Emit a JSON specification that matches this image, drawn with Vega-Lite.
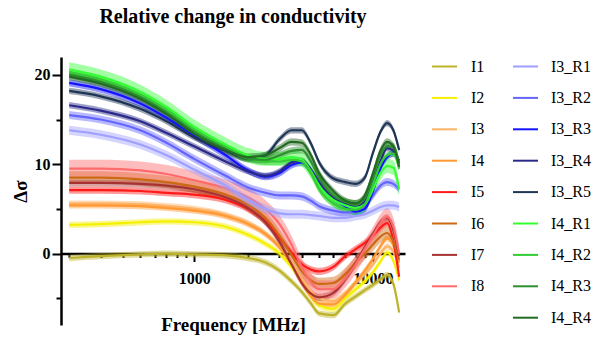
{
"$schema": "https://vega.github.io/schema/vega-lite/v6.json",
"width": 344, "height": 268,
"autosize": {"type": "none"},
"padding": {"left": 61, "top": 57, "right": 200, "bottom": 15},
"background": "white",
"config": {"view": {"stroke": null}},
"title": {"text": "Relative change in conductivity", "font": "Liberation Serif", "fontSize": 20, "fontWeight": "bold", "anchor": "middle", "offset": 26, "color": "black"},
"datasets": {"d": [
{"s":"I1","f":200,"v":-0.5,"e":0.35},{"s":"I1","f":300,"v":-0.3,"e":0.35},{"s":"I1","f":500,"v":-0.1,"e":0.35},{"s":"I1","f":700,"v":0.0,"e":0.35},{"s":"I1","f":1000,"v":-0.1,"e":0.35},{"s":"I1","f":1500,"v":-0.2,"e":0.35},{"s":"I1","f":2000,"v":-0.5,"e":0.35},{"s":"I1","f":2500,"v":-1.0,"e":0.35},{"s":"I1","f":3000,"v":-1.9,"e":0.35},{"s":"I1","f":3500,"v":-3.1,"e":0.35},{"s":"I1","f":4000,"v":-4.3,"e":0.35},{"s":"I1","f":4500,"v":-5.6,"e":0.35},{"s":"I1","f":5000,"v":-6.7,"e":0.35},{"s":"I1","f":6000,"v":-6.9,"e":0.35},{"s":"I1","f":7000,"v":-5.6,"e":0.35},{"s":"I1","f":8000,"v":-4.8,"e":0.35},{"s":"I1","f":9000,"v":-4.1,"e":0.35},{"s":"I1","f":10000,"v":-3.5,"e":0.35},{"s":"I1","f":11000,"v":-2.9,"e":0.35},{"s":"I1","f":12000,"v":-2.4,"e":0.35},{"s":"I1","f":13000,"v":-3.4,"e":0.35},{"s":"I1","f":14000,"v":-6.6,"e":0.35},
{"s":"I2","f":200,"v":3.2,"e":0.35},{"s":"I2","f":300,"v":3.3,"e":0.35},{"s":"I2","f":500,"v":3.5,"e":0.35},{"s":"I2","f":700,"v":3.6,"e":0.35},{"s":"I2","f":1000,"v":3.5,"e":0.35},{"s":"I2","f":1500,"v":3.0,"e":0.35},{"s":"I2","f":2000,"v":2.1,"e":0.35},{"s":"I2","f":2500,"v":1.1,"e":0.35},{"s":"I2","f":3000,"v":0.0,"e":0.35},{"s":"I2","f":3500,"v":-1.5,"e":0.35},{"s":"I2","f":4000,"v":-3.2,"e":0.35},{"s":"I2","f":4500,"v":-4.8,"e":0.35},{"s":"I2","f":5000,"v":-5.8,"e":0.35},{"s":"I2","f":6000,"v":-6.2,"e":0.35},{"s":"I2","f":7000,"v":-5.0,"e":0.35},{"s":"I2","f":8000,"v":-4.0,"e":0.35},{"s":"I2","f":9000,"v":-3.1,"e":0.35},{"s":"I2","f":10000,"v":-2.1,"e":0.35},{"s":"I2","f":11000,"v":-0.9,"e":0.35},{"s":"I2","f":12000,"v":0.1,"e":0.35},{"s":"I2","f":13000,"v":-0.8,"e":0.35},{"s":"I2","f":14000,"v":-3.0,"e":0.35},
{"s":"I3","f":200,"v":5.6,"e":0.35},{"s":"I3","f":300,"v":5.6,"e":0.35},{"s":"I3","f":500,"v":5.5,"e":0.35},{"s":"I3","f":700,"v":5.3,"e":0.35},{"s":"I3","f":1000,"v":5.0,"e":0.35},{"s":"I3","f":1500,"v":4.3,"e":0.35},{"s":"I3","f":2000,"v":3.4,"e":0.35},{"s":"I3","f":2500,"v":2.2,"e":0.35},{"s":"I3","f":3000,"v":0.8,"e":0.35},{"s":"I3","f":3500,"v":-1.0,"e":0.35},{"s":"I3","f":4000,"v":-2.8,"e":0.35},{"s":"I3","f":4500,"v":-4.2,"e":0.35},{"s":"I3","f":5000,"v":-5.0,"e":0.35},{"s":"I3","f":6000,"v":-5.3,"e":0.35},{"s":"I3","f":7000,"v":-4.4,"e":0.35},{"s":"I3","f":8000,"v":-3.3,"e":0.35},{"s":"I3","f":9000,"v":-2.3,"e":0.35},{"s":"I3","f":10000,"v":-1.2,"e":0.35},{"s":"I3","f":11000,"v":0.0,"e":0.35},{"s":"I3","f":12000,"v":0.8,"e":0.35},{"s":"I3","f":13000,"v":0.2,"e":0.35},{"s":"I3","f":14000,"v":-1.6,"e":0.35},
{"s":"I4","f":200,"v":5.4,"e":0.35},{"s":"I4","f":300,"v":5.4,"e":0.35},{"s":"I4","f":500,"v":5.3,"e":0.35},{"s":"I4","f":700,"v":5.1,"e":0.35},{"s":"I4","f":1000,"v":4.8,"e":0.35},{"s":"I4","f":1500,"v":4.2,"e":0.35},{"s":"I4","f":2000,"v":3.3,"e":0.35},{"s":"I4","f":2500,"v":2.2,"e":0.35},{"s":"I4","f":3000,"v":0.7,"e":0.35},{"s":"I4","f":3500,"v":-1.2,"e":0.35},{"s":"I4","f":4000,"v":-3.2,"e":0.35},{"s":"I4","f":4500,"v":-4.8,"e":0.35},{"s":"I4","f":5000,"v":-5.6,"e":0.35},{"s":"I4","f":6000,"v":-5.7,"e":0.35},{"s":"I4","f":7000,"v":-4.6,"e":0.35},{"s":"I4","f":8000,"v":-3.2,"e":0.35},{"s":"I4","f":9000,"v":-1.9,"e":0.35},{"s":"I4","f":10000,"v":-0.6,"e":0.35},{"s":"I4","f":11000,"v":0.8,"e":0.35},{"s":"I4","f":12000,"v":1.7,"e":0.35},{"s":"I4","f":13000,"v":1.0,"e":0.35},{"s":"I4","f":14000,"v":-1.0,"e":0.35},
{"s":"I5","f":200,"v":7.1,"e":0.4},{"s":"I5","f":300,"v":7.1,"e":0.4},{"s":"I5","f":500,"v":7.0,"e":0.4},{"s":"I5","f":700,"v":6.8,"e":0.4},{"s":"I5","f":1000,"v":6.6,"e":0.4},{"s":"I5","f":1500,"v":6.0,"e":0.4},{"s":"I5","f":2000,"v":5.0,"e":0.4},{"s":"I5","f":2500,"v":3.6,"e":0.4},{"s":"I5","f":3000,"v":1.8,"e":0.4},{"s":"I5","f":3500,"v":0.1,"e":0.4},{"s":"I5","f":4000,"v":-1.2,"e":0.4},{"s":"I5","f":4500,"v":-1.8,"e":0.4},{"s":"I5","f":5000,"v":-2.0,"e":0.4},{"s":"I5","f":6000,"v":-1.5,"e":0.4},{"s":"I5","f":7000,"v":-0.3,"e":0.4},{"s":"I5","f":8000,"v":0.5,"e":0.4},{"s":"I5","f":9000,"v":1.2,"e":0.4},{"s":"I5","f":10000,"v":2.0,"e":0.4},{"s":"I5","f":11000,"v":2.9,"e":0.4},{"s":"I5","f":12000,"v":3.4,"e":0.4},{"s":"I5","f":13000,"v":1.4,"e":0.4},{"s":"I5","f":14000,"v":-2.6,"e":0.4},
{"s":"I6","f":200,"v":8.5,"e":0.7},{"s":"I6","f":300,"v":8.5,"e":0.7},{"s":"I6","f":500,"v":8.3,"e":0.7},{"s":"I6","f":700,"v":8.0,"e":0.7},{"s":"I6","f":1000,"v":7.5,"e":0.7},{"s":"I6","f":1500,"v":6.6,"e":0.7},{"s":"I6","f":2000,"v":5.5,"e":0.7},{"s":"I6","f":2500,"v":4.0,"e":0.7},{"s":"I6","f":3000,"v":2.0,"e":0.7},{"s":"I6","f":3500,"v":-0.2,"e":0.7},{"s":"I6","f":4000,"v":-2.0,"e":0.7},{"s":"I6","f":4500,"v":-3.0,"e":0.7},{"s":"I6","f":5000,"v":-3.4,"e":0.7},{"s":"I6","f":6000,"v":-3.3,"e":0.7},{"s":"I6","f":7000,"v":-2.3,"e":0.7},{"s":"I6","f":8000,"v":-1.0,"e":0.7},{"s":"I6","f":9000,"v":0.0,"e":0.7},{"s":"I6","f":10000,"v":1.0,"e":0.7},{"s":"I6","f":11000,"v":1.9,"e":0.7},{"s":"I6","f":12000,"v":2.3,"e":0.7},{"s":"I6","f":13000,"v":1.3,"e":0.7},{"s":"I6","f":14000,"v":-0.7,"e":0.7},
{"s":"I7","f":200,"v":7.9,"e":0.4},{"s":"I7","f":300,"v":7.9,"e":0.4},{"s":"I7","f":500,"v":7.8,"e":0.4},{"s":"I7","f":700,"v":7.6,"e":0.4},{"s":"I7","f":1000,"v":7.2,"e":0.4},{"s":"I7","f":1500,"v":6.3,"e":0.4},{"s":"I7","f":2000,"v":5.1,"e":0.4},{"s":"I7","f":2500,"v":3.5,"e":0.4},{"s":"I7","f":3000,"v":1.3,"e":0.4},{"s":"I7","f":3500,"v":-1.2,"e":0.4},{"s":"I7","f":4000,"v":-3.3,"e":0.4},{"s":"I7","f":4500,"v":-4.5,"e":0.4},{"s":"I7","f":5000,"v":-4.9,"e":0.4},{"s":"I7","f":6000,"v":-4.4,"e":0.4},{"s":"I7","f":7000,"v":-2.9,"e":0.4},{"s":"I7","f":8000,"v":-1.1,"e":0.4},{"s":"I7","f":9000,"v":0.7,"e":0.4},{"s":"I7","f":10000,"v":2.2,"e":0.4},{"s":"I7","f":11000,"v":3.5,"e":0.4},{"s":"I7","f":12000,"v":4.0,"e":0.4},{"s":"I7","f":13000,"v":2.6,"e":0.4},{"s":"I7","f":14000,"v":-0.3,"e":0.4},
{"s":"I8","f":200,"v":9.5,"e":1.0},{"s":"I8","f":300,"v":9.5,"e":1.0},{"s":"I8","f":500,"v":9.3,"e":1.0},{"s":"I8","f":700,"v":8.9,"e":1.0},{"s":"I8","f":1000,"v":8.2,"e":1.0},{"s":"I8","f":1500,"v":7.3,"e":1.0},{"s":"I8","f":2000,"v":6.3,"e":1.0},{"s":"I8","f":2500,"v":5.0,"e":1.0},{"s":"I8","f":3000,"v":3.3,"e":1.0},{"s":"I8","f":3500,"v":1.0,"e":1.0},{"s":"I8","f":4000,"v":-1.5,"e":1.0},{"s":"I8","f":4500,"v":-3.2,"e":1.0},{"s":"I8","f":5000,"v":-4.0,"e":1.0},{"s":"I8","f":6000,"v":-4.0,"e":1.0},{"s":"I8","f":7000,"v":-2.8,"e":1.0},{"s":"I8","f":8000,"v":-1.2,"e":1.0},{"s":"I8","f":9000,"v":0.5,"e":1.0},{"s":"I8","f":10000,"v":2.0,"e":1.0},{"s":"I8","f":11000,"v":3.4,"e":1.0},{"s":"I8","f":12000,"v":4.1,"e":1.0},{"s":"I8","f":13000,"v":3.0,"e":1.0},{"s":"I8","f":14000,"v":0.0,"e":1.0},
{"s":"I3_R1","f":200,"v":13.8,"e":0.5},{"s":"I3_R1","f":300,"v":13.3,"e":0.5},{"s":"I3_R1","f":500,"v":12.2,"e":0.5},{"s":"I3_R1","f":700,"v":11.0,"e":0.5},{"s":"I3_R1","f":1000,"v":9.4,"e":0.5},{"s":"I3_R1","f":1500,"v":7.6,"e":0.5},{"s":"I3_R1","f":2000,"v":6.0,"e":0.5},{"s":"I3_R1","f":2500,"v":5.0,"e":0.5},{"s":"I3_R1","f":3000,"v":4.5,"e":0.5},{"s":"I3_R1","f":3500,"v":4.4,"e":0.5},{"s":"I3_R1","f":4000,"v":4.4,"e":0.5},{"s":"I3_R1","f":4500,"v":4.3,"e":0.5},{"s":"I3_R1","f":5000,"v":4.2,"e":0.5},{"s":"I3_R1","f":6000,"v":4.0,"e":0.5},{"s":"I3_R1","f":7000,"v":4.0,"e":0.5},{"s":"I3_R1","f":8000,"v":4.2,"e":0.5},{"s":"I3_R1","f":9000,"v":4.4,"e":0.5},{"s":"I3_R1","f":10000,"v":4.8,"e":0.5},{"s":"I3_R1","f":11000,"v":5.2,"e":0.5},{"s":"I3_R1","f":12000,"v":5.4,"e":0.5},{"s":"I3_R1","f":13000,"v":5.4,"e":0.5},{"s":"I3_R1","f":14000,"v":5.2,"e":0.5},
{"s":"I3_R2","f":200,"v":15.5,"e":0.45},{"s":"I3_R2","f":300,"v":15.0,"e":0.45},{"s":"I3_R2","f":500,"v":13.8,"e":0.45},{"s":"I3_R2","f":700,"v":12.4,"e":0.45},{"s":"I3_R2","f":1000,"v":10.6,"e":0.45},{"s":"I3_R2","f":1500,"v":8.7,"e":0.45},{"s":"I3_R2","f":2000,"v":7.4,"e":0.45},{"s":"I3_R2","f":2500,"v":6.8,"e":0.45},{"s":"I3_R2","f":3000,"v":6.5,"e":0.45},{"s":"I3_R2","f":3500,"v":6.5,"e":0.45},{"s":"I3_R2","f":4000,"v":6.4,"e":0.45},{"s":"I3_R2","f":4500,"v":5.9,"e":0.45},{"s":"I3_R2","f":5000,"v":5.3,"e":0.45},{"s":"I3_R2","f":6000,"v":4.8,"e":0.45},{"s":"I3_R2","f":7000,"v":4.6,"e":0.45},{"s":"I3_R2","f":8000,"v":4.7,"e":0.45},{"s":"I3_R2","f":9000,"v":5.3,"e":0.45},{"s":"I3_R2","f":10000,"v":6.5,"e":0.45},{"s":"I3_R2","f":11000,"v":7.6,"e":0.45},{"s":"I3_R2","f":12000,"v":8.0,"e":0.45},{"s":"I3_R2","f":13000,"v":7.8,"e":0.45},{"s":"I3_R2","f":14000,"v":7.2,"e":0.45},
{"s":"I3_R3","f":200,"v":19.1,"e":0.4},{"s":"I3_R3","f":300,"v":18.4,"e":0.4},{"s":"I3_R3","f":500,"v":16.8,"e":0.4},{"s":"I3_R3","f":700,"v":15.2,"e":0.4},{"s":"I3_R3","f":1000,"v":13.2,"e":0.4},{"s":"I3_R3","f":1500,"v":11.0,"e":0.4},{"s":"I3_R3","f":2000,"v":9.3,"e":0.4},{"s":"I3_R3","f":2500,"v":8.6,"e":0.4},{"s":"I3_R3","f":3000,"v":9.0,"e":0.4},{"s":"I3_R3","f":3500,"v":9.9,"e":0.4},{"s":"I3_R3","f":4000,"v":10.2,"e":0.4},{"s":"I3_R3","f":4500,"v":9.2,"e":0.4},{"s":"I3_R3","f":5000,"v":7.8,"e":0.4},{"s":"I3_R3","f":6000,"v":6.2,"e":0.4},{"s":"I3_R3","f":7000,"v":5.3,"e":0.4},{"s":"I3_R3","f":8000,"v":4.7,"e":0.4},{"s":"I3_R3","f":9000,"v":5.0,"e":0.4},{"s":"I3_R3","f":10000,"v":7.0,"e":0.4},{"s":"I3_R3","f":11000,"v":9.5,"e":0.4},{"s":"I3_R3","f":12000,"v":10.8,"e":0.4},{"s":"I3_R3","f":13000,"v":11.2,"e":0.4},{"s":"I3_R3","f":14000,"v":10.4,"e":0.4},
{"s":"I3_R4","f":200,"v":16.6,"e":0.35},{"s":"I3_R4","f":300,"v":16.0,"e":0.35},{"s":"I3_R4","f":500,"v":14.8,"e":0.35},{"s":"I3_R4","f":700,"v":13.5,"e":0.35},{"s":"I3_R4","f":1000,"v":12.0,"e":0.35},{"s":"I3_R4","f":1500,"v":10.3,"e":0.35},{"s":"I3_R4","f":2000,"v":9.2,"e":0.35},{"s":"I3_R4","f":2500,"v":8.7,"e":0.35},{"s":"I3_R4","f":3000,"v":9.2,"e":0.35},{"s":"I3_R4","f":3500,"v":10.2,"e":0.35},{"s":"I3_R4","f":4000,"v":10.4,"e":0.35},{"s":"I3_R4","f":4500,"v":9.4,"e":0.35},{"s":"I3_R4","f":5000,"v":8.0,"e":0.35},{"s":"I3_R4","f":6000,"v":6.2,"e":0.35},{"s":"I3_R4","f":7000,"v":5.5,"e":0.35},{"s":"I3_R4","f":8000,"v":5.2,"e":0.35},{"s":"I3_R4","f":9000,"v":5.8,"e":0.35},{"s":"I3_R4","f":10000,"v":8.0,"e":0.35},{"s":"I3_R4","f":11000,"v":10.3,"e":0.35},{"s":"I3_R4","f":12000,"v":11.8,"e":0.35},{"s":"I3_R4","f":13000,"v":11.5,"e":0.35},{"s":"I3_R4","f":14000,"v":10.2,"e":0.35},
{"s":"I3_R5","f":200,"v":18.2,"e":0.35},{"s":"I3_R5","f":300,"v":17.6,"e":0.35},{"s":"I3_R5","f":500,"v":16.2,"e":0.35},{"s":"I3_R5","f":700,"v":14.8,"e":0.35},{"s":"I3_R5","f":1000,"v":13.0,"e":0.35},{"s":"I3_R5","f":1500,"v":11.5,"e":0.35},{"s":"I3_R5","f":2000,"v":10.6,"e":0.35},{"s":"I3_R5","f":2500,"v":11.0,"e":0.35},{"s":"I3_R5","f":3000,"v":12.8,"e":0.35},{"s":"I3_R5","f":3500,"v":13.8,"e":0.35},{"s":"I3_R5","f":4000,"v":13.8,"e":0.35},{"s":"I3_R5","f":4500,"v":12.3,"e":0.35},{"s":"I3_R5","f":5000,"v":10.2,"e":0.35},{"s":"I3_R5","f":6000,"v":8.4,"e":0.35},{"s":"I3_R5","f":7000,"v":8.0,"e":0.35},{"s":"I3_R5","f":8000,"v":7.8,"e":0.35},{"s":"I3_R5","f":9000,"v":8.5,"e":0.35},{"s":"I3_R5","f":10000,"v":11.3,"e":0.35},{"s":"I3_R5","f":11000,"v":13.6,"e":0.35},{"s":"I3_R5","f":12000,"v":14.6,"e":0.35},{"s":"I3_R5","f":13000,"v":13.8,"e":0.35},{"s":"I3_R5","f":14000,"v":11.6,"e":0.35},
{"s":"I4_R1","f":200,"v":20.6,"e":0.8},{"s":"I4_R1","f":300,"v":19.8,"e":0.8},{"s":"I4_R1","f":500,"v":18.1,"e":0.8},{"s":"I4_R1","f":700,"v":16.4,"e":0.8},{"s":"I4_R1","f":1000,"v":14.2,"e":0.8},{"s":"I4_R1","f":1500,"v":12.2,"e":0.8},{"s":"I4_R1","f":2000,"v":11.0,"e":0.8},{"s":"I4_R1","f":2500,"v":10.6,"e":0.8},{"s":"I4_R1","f":3000,"v":10.6,"e":0.8},{"s":"I4_R1","f":3500,"v":10.8,"e":0.8},{"s":"I4_R1","f":4000,"v":10.5,"e":0.8},{"s":"I4_R1","f":4500,"v":9.2,"e":0.8},{"s":"I4_R1","f":5000,"v":7.6,"e":0.8},{"s":"I4_R1","f":6000,"v":6.0,"e":0.8},{"s":"I4_R1","f":7000,"v":5.4,"e":0.8},{"s":"I4_R1","f":8000,"v":5.1,"e":0.8},{"s":"I4_R1","f":9000,"v":5.5,"e":0.8},{"s":"I4_R1","f":10000,"v":7.2,"e":0.8},{"s":"I4_R1","f":11000,"v":9.0,"e":0.8},{"s":"I4_R1","f":12000,"v":9.8,"e":0.8},{"s":"I4_R1","f":13000,"v":9.6,"e":0.8},{"s":"I4_R1","f":14000,"v":7.2,"e":0.8},
{"s":"I4_R2","f":200,"v":20.3,"e":0.4},{"s":"I4_R2","f":300,"v":19.5,"e":0.4},{"s":"I4_R2","f":500,"v":17.8,"e":0.4},{"s":"I4_R2","f":700,"v":16.1,"e":0.4},{"s":"I4_R2","f":1000,"v":13.9,"e":0.4},{"s":"I4_R2","f":1500,"v":11.9,"e":0.4},{"s":"I4_R2","f":2000,"v":10.7,"e":0.4},{"s":"I4_R2","f":2500,"v":10.3,"e":0.4},{"s":"I4_R2","f":3000,"v":10.3,"e":0.4},{"s":"I4_R2","f":3500,"v":10.5,"e":0.4},{"s":"I4_R2","f":4000,"v":10.3,"e":0.4},{"s":"I4_R2","f":4500,"v":9.0,"e":0.4},{"s":"I4_R2","f":5000,"v":7.2,"e":0.4},{"s":"I4_R2","f":6000,"v":5.6,"e":0.4},{"s":"I4_R2","f":7000,"v":5.0,"e":0.4},{"s":"I4_R2","f":8000,"v":4.9,"e":0.4},{"s":"I4_R2","f":9000,"v":5.5,"e":0.4},{"s":"I4_R2","f":10000,"v":7.8,"e":0.4},{"s":"I4_R2","f":11000,"v":10.0,"e":0.4},{"s":"I4_R2","f":12000,"v":11.0,"e":0.4},{"s":"I4_R2","f":13000,"v":11.2,"e":0.4},{"s":"I4_R2","f":14000,"v":9.5,"e":0.4},
{"s":"I4_R3","f":200,"v":20.0,"e":0.4},{"s":"I4_R3","f":300,"v":19.2,"e":0.4},{"s":"I4_R3","f":500,"v":17.5,"e":0.4},{"s":"I4_R3","f":700,"v":15.8,"e":0.4},{"s":"I4_R3","f":1000,"v":13.6,"e":0.4},{"s":"I4_R3","f":1500,"v":11.7,"e":0.4},{"s":"I4_R3","f":2000,"v":10.6,"e":0.4},{"s":"I4_R3","f":2500,"v":10.5,"e":0.4},{"s":"I4_R3","f":3000,"v":11.0,"e":0.4},{"s":"I4_R3","f":3500,"v":11.5,"e":0.4},{"s":"I4_R3","f":4000,"v":11.6,"e":0.4},{"s":"I4_R3","f":4500,"v":10.3,"e":0.4},{"s":"I4_R3","f":5000,"v":8.5,"e":0.4},{"s":"I4_R3","f":6000,"v":6.5,"e":0.4},{"s":"I4_R3","f":7000,"v":5.8,"e":0.4},{"s":"I4_R3","f":8000,"v":5.6,"e":0.4},{"s":"I4_R3","f":9000,"v":6.2,"e":0.4},{"s":"I4_R3","f":10000,"v":8.6,"e":0.4},{"s":"I4_R3","f":11000,"v":11.0,"e":0.4},{"s":"I4_R3","f":12000,"v":12.0,"e":0.4},{"s":"I4_R3","f":13000,"v":12.0,"e":0.4},{"s":"I4_R3","f":14000,"v":10.0,"e":0.4},
{"s":"I4_R4","f":200,"v":19.8,"e":0.4},{"s":"I4_R4","f":300,"v":19.0,"e":0.4},{"s":"I4_R4","f":500,"v":17.3,"e":0.4},{"s":"I4_R4","f":700,"v":15.6,"e":0.4},{"s":"I4_R4","f":1000,"v":13.4,"e":0.4},{"s":"I4_R4","f":1500,"v":11.6,"e":0.4},{"s":"I4_R4","f":2000,"v":10.8,"e":0.4},{"s":"I4_R4","f":2500,"v":11.0,"e":0.4},{"s":"I4_R4","f":3000,"v":11.8,"e":0.4},{"s":"I4_R4","f":3500,"v":12.5,"e":0.4},{"s":"I4_R4","f":4000,"v":12.4,"e":0.4},{"s":"I4_R4","f":4500,"v":11.0,"e":0.4},{"s":"I4_R4","f":5000,"v":9.0,"e":0.4},{"s":"I4_R4","f":6000,"v":7.0,"e":0.4},{"s":"I4_R4","f":7000,"v":5.9,"e":0.4},{"s":"I4_R4","f":8000,"v":5.6,"e":0.4},{"s":"I4_R4","f":9000,"v":6.5,"e":0.4},{"s":"I4_R4","f":10000,"v":9.0,"e":0.4},{"s":"I4_R4","f":11000,"v":11.5,"e":0.4},{"s":"I4_R4","f":12000,"v":12.5,"e":0.4},{"s":"I4_R4","f":13000,"v":12.0,"e":0.4},{"s":"I4_R4","f":14000,"v":9.7,"e":0.4}
]},
"data": {"name": "d"},
"encoding": {
  "x": {"field": "f", "type": "quantitative",
    "scale": {"type": "log", "domain": [180, 15100], "nice": false},
    "axis": {"values": [200,300,400,500,600,700,800,900,1000,2000,3000,4000,5000,6000,7000,8000,9000,10000],
      "labelExpr": "(datum.value == 1000 || datum.value == 10000) ? format(datum.value, 'd') : ''",
      "offset": -71.47, "grid": false, "labelOverlap": false, "labelFlush": false,
      "tickSize": {"condition": {"test": "datum.value == 1000 || datum.value == 10000", "value": 8}, "value": 4},
      "tickWidth": 2, "tickColor": "black", "domainColor": "black", "domainWidth": 2.5,
      "labelFont": "Liberation Serif", "labelFontSize": 16, "labelFontWeight": "bold", "labelColor": "black", "labelPadding": 9,
      "title": "Frequency [MHz]", "titleFont": "Liberation Serif", "titleFontSize": 19, "titleFontWeight": "bold", "titleColor": "black", "titlePadding": 29}},
  "y": {"field": "v", "type": "quantitative",
    "scale": {"domain": [-8, 22], "nice": false, "zero": false},
    "axis": {"values": [-5,0,5,10,15,20],
      "labelExpr": "datum.value % 10 == 0 ? datum.label : ''",
      "grid": false, "labelOverlap": false, "labelFlush": false,
      "tickSize": {"condition": {"test": "datum.value % 10 == 0", "value": 9}, "value": 5},
      "tickWidth": 2, "tickColor": "black", "domainColor": "black", "domainWidth": 2.5,
      "labelFont": "Liberation Serif", "labelFontSize": 16, "labelFontWeight": "bold", "labelColor": "black", "labelPadding": 2,
      "title": "Δσ", "titleFont": "Liberation Serif", "titleFontSize": 19, "titleFontWeight": "bold", "titleColor": "black", "titlePadding": 4}}
},
"layer": [
  {"transform": [{"filter": "indexof(datum.s, '_') < 0"}],
   "encoding": {"color": {"field": "s", "type": "nominal",
          "scale": {"domain": ["I1","I2","I3","I4","I5","I6","I7","I8"], "range": ["#bdb32a","#f5f000","#ffb366","#ff9933","#ff1a1a","#cc6a14","#a83232","#ff6b6b"]},
          "legend": {"orient": "none", "legendX": 370, "legendY": -4, "title": null, "padding": 0,
            "symbolType": "stroke", "symbolSize": 625, "symbolStrokeWidth": 2, "symbolOpacity": 1,
            "labelFont": "Liberation Serif", "labelFontSize": 16, "labelColor": "black", "labelOffset": 13, "rowPadding": 9.4}}},
   "layer": [
     {"mark": {"type": "errorband", "interpolate": "monotone", "band": {"opacity": 0.45}},
      "encoding": {"yError": {"field": "e"}}},
     {"mark": {"type": "line", "interpolate": "monotone", "strokeWidth": 2.2}}
   ]},
  {"transform": [{"filter": "indexof(datum.s, '_') >= 0"}],
   "encoding": {"color": {"field": "s", "type": "nominal",
          "scale": {"domain": ["I3_R1","I3_R2","I3_R3","I3_R4","I3_R5","I4_R1","I4_R2","I4_R3","I4_R4"], "range": ["#9f9fff","#6464ff","#1414ff","#2a2a8a","#1f3556","#33ff33","#33cc33","#2d8f2d","#236b23"]},
          "legend": {"orient": "none", "legendX": 451, "legendY": -4, "title": null, "padding": 0,
            "symbolType": "stroke", "symbolSize": 625, "symbolStrokeWidth": 2, "symbolOpacity": 1,
            "labelFont": "Liberation Serif", "labelFontSize": 16, "labelColor": "black", "labelOffset": 12, "rowPadding": 9.4}}},
   "layer": [
     {"mark": {"type": "errorband", "interpolate": "monotone", "band": {"opacity": 0.45}},
      "encoding": {"yError": {"field": "e"}}},
     {"mark": {"type": "line", "interpolate": "monotone", "strokeWidth": 2.2}}
   ]}
],
"resolve": {"scale": {"color": "independent"}, "legend": {"color": "independent"}}
}
